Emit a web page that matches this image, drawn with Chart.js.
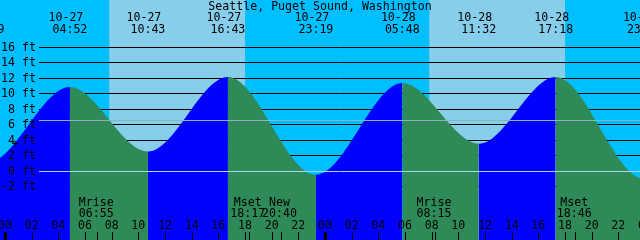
<!DOCTYPE html>
<html>
<head>
<meta charset="utf-8">
<script src="https://cdn.jsdelivr.net/npm/chart.js@4"></script>
<style>
  body { margin: 0; background: #00bfff; }
  #wrap { width: 640px; height: 240px; position: relative; }
</style>
</head>
<body>
<div id="wrap"><canvas id="chart"></canvas></div>
<script>
const title = "Seattle, Puget Sound, Washington";

// high / low tides (MM-DD HH:MM) and heights in ft
// first and last entries lie outside the window, they keep the edge slopes right
const tideTimes = ["10-26 16:25", "10-26 22:39", "10-27 04:52", "10-27 10:43", "10-27 16:43", "10-27 23:19",
                   "10-28 05:48", "10-28 11:32", "10-28 17:18", "10-28 23:57", "10-29 06:40"];
const tideHeights = [11.6, 1.0, 10.8, 2.5, 12.1, -0.5, 11.3, 3.5, 12.1, -1.0, 11.5];

const moonTimes = ["10-27 06:55", "10-27 18:17", "10-27 20:40", "10-28 08:15", "10-28 18:46"];
const moonLabels = ["Mrise", "Mset", "New", "Mrise", "Mset"];

// sunrise, sunset, sunrise, sunset
const sunTimes = ["10-27 07:49", "10-27 18:00", "10-28 07:49", "10-28 18:00"];

const ftTicks = [-2, 0, 2, 4, 6, 8, 10, 12, 14, 16];
const meanLevel = 6.6;
const hourTicks = [0, 2, 4, 6, 8, 10, 12, 14, 16, 18, 20, 22, 24, 26, 28, 30, 32, 34, 36, 38, 40, 42, 44, 46, 48];

const FONT = "11.6px 'DejaVu Sans Mono'";

// hours since 10-27 00:00
function toHours(s) {
    const day = parseInt(s.split(" ")[0].split("-")[1]);
    const hm = s.split(" ")[1].split(":");
    return (day - 27) * 24 + parseInt(hm[0]) + parseInt(hm[1]) / 60;
}

const tidePoints = tideTimes.map(function (t, i) {
    return {x: toHours(t), y: tideHeights[i]};
});

const tidePlugin = {
    id: "tide",
    beforeDraw(chart) {
        const ctx = chart.ctx;
        const x = chart.scales.x;
        ctx.save();
        ctx.fillStyle = "#00bfff";
        ctx.fillRect(0, 0, chart.width, chart.height);
        ctx.fillStyle = "#87ceeb";
        for (let i = 0; i < sunTimes.length; i += 2) {
            const a = x.getPixelForValue(toHours(sunTimes[i]));
            const b = x.getPixelForValue(toHours(sunTimes[i + 1]));
            ctx.fillRect(a, 0, b - a, chart.height);
        }
        ctx.restore();
    },
    beforeDatasetsDraw(chart) {
        const ctx = chart.ctx;
        const y = chart.scales.y;
        ctx.save();
        ctx.strokeStyle = "#000";
        ctx.lineWidth = 1;
        for (let i = 0; i < ftTicks.length; i++) {
            const py = Math.round(y.getPixelForValue(ftTicks[i])) + 0.5;
            ctx.beginPath();
            ctx.moveTo(39, py);
            ctx.lineTo(chart.width, py);
            ctx.stroke();
        }
        ctx.restore();
    },
    afterDatasetsDraw(chart) {
        const ctx = chart.ctx;
        const x = chart.scales.x;
        const y = chart.scales.y;
        ctx.save();

        // datum and mean level lines
        let py = Math.round(y.getPixelForValue(0)) + 0.5;
        ctx.strokeStyle = "#a6d6f0";
        ctx.beginPath(); ctx.moveTo(39, py); ctx.lineTo(chart.width, py); ctx.stroke();
        py = Math.round(y.getPixelForValue(meanLevel)) + 0.5;
        ctx.strokeStyle = "#8db3c0";
        ctx.beginPath(); ctx.moveTo(39, py); ctx.lineTo(chart.width, py); ctx.stroke();

        ctx.fillStyle = "#000";
        ctx.font = FONT;

        // height labels
        ctx.textAlign = "right";
        for (let i = 0; i < ftTicks.length; i++) {
            ctx.fillText(ftTicks[i] + " ft", 36, y.getPixelForValue(ftTicks[i]) + 4);
        }
        ctx.textAlign = "center";
        ctx.fillText("+", 15, 148);

        // title and tide event labels
        ctx.fillText(title, 320, 10);
        for (let i = 0; i < tideTimes.length; i++) {
            const px = x.getPixelForValue(toHours(tideTimes[i]));
            const parts = tideTimes[i].split(" ");
            ctx.fillText(parts[0], px - 4, 21);
            ctx.fillText(parts[1], px, 33);
        }

        // moon events
        for (let i = 0; i < moonTimes.length; i++) {
            const px = x.getPixelForValue(toHours(moonTimes[i]));
            ctx.fillText(moonLabels[i], px - 1, 206);
            ctx.fillText(moonTimes[i].split(" ")[1], px - 1, 217);
            ctx.fillRect(Math.round(px), 232, 1, 8);
        }

        // hour ticks
        for (let i = 0; i < hourTicks.length; i++) {
            const h = hourTicks[i];
            const px = x.getPixelForValue(h);
            const lbl = String(h % 24).padStart(2, "0");
            ctx.fillText(lbl, px, 229);
            if (h % 24 === 0) {
                ctx.fillRect(Math.round(px) - 1, 232, 3, 8);
            } else {
                ctx.fillRect(Math.round(px), 232, 1, 8);
            }
        }
        ctx.restore();
    }
};

new Chart("chart", {
    type: "line",
    data: {
        datasets: [{
            data: tidePoints,
            fill: "start",
            borderWidth: 0,
            pointRadius: 0,
            cubicInterpolationMode: "monotone",
            backgroundColor: "#0000ff",
            segment: {
                backgroundColor: function (c) {
                    return c.p1.parsed.y > c.p0.parsed.y ? "#0000ff" : "#2e8b57";
                }
            }
        }]
    },
    options: {
        responsive: true,
        maintainAspectRatio: false,
        animation: false,
        layout: {padding: 0},
        plugins: {legend: {display: false}, tooltip: {enabled: false}},
        scales: {
            x: {type: "linear", min: -0.375, max: 47.625, display: false},
            y: {min: -8.9, max: 22.0, display: false}
        }
    },
    plugins: [tidePlugin]
});
</script>
</body>
</html>
